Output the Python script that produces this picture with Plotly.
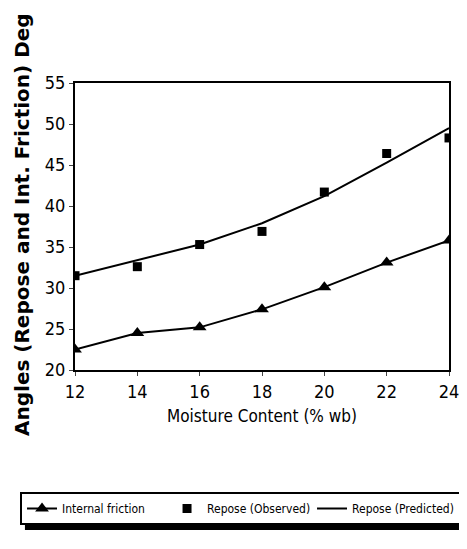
import plotly.graph_objects as go

moisture = [12, 14, 16, 18, 20, 22, 24]
internal_friction = [22.5, 24.5, 25.2, 27.4, 30.1, 33.1, 35.8]
repose_observed = [31.5, 32.6, 35.3, 36.9, 41.7, 46.4, 48.3]
repose_predicted = [31.5, 33.4, 35.3, 37.9, 41.2, 45.3, 49.5]

narrow = "DejaVu Sans Condensed, Liberation Sans Narrow, Liberation Sans"

fig = go.Figure()
fig.add_trace(go.Scatter(
    x=moisture, y=internal_friction, name="Internal friction",
    mode="lines+markers", line=dict(color="black", width=2),
    marker=dict(symbol="triangle-up", size=12, color="black"), legendwidth=100))
fig.add_trace(go.Scatter(
    x=moisture, y=repose_observed, name="Repose (Observed)",
    mode="markers", marker=dict(symbol="square", size=9, color="black"), legendwidth=100))
fig.add_trace(go.Scatter(
    x=moisture, y=repose_predicted, name="Repose (Predicted)",
    mode="lines", line=dict(color="black", width=2)))

# page has an 8px body margin; plot area on screen: left 68, right 449, top 83, bottom 370
def px_x(p):
    return (p - 68) / 381.0

def px_y(p):
    return (370 - p) / 287.0

# drop shadow behind the legend box
fig.add_shape(type="rect", xref="paper", yref="paper",
              x0=px_x(17), x1=px_x(464), y0=px_y(530), y1=px_y(500),
              fillcolor="black", line=dict(width=0), layer="above")

# y-axis title placed as a rotated annotation for exact placement
fig.add_annotation(text="<b>Angles (Repose and Int. Friction) Deg</b>",
                   xref="paper", yref="paper", x=px_x(14), y=px_y(224),
                   xanchor="center", yanchor="middle", textangle=-90, showarrow=False,
                   font=dict(size=20, family="DejaVu Sans, Liberation Sans", color="black"))

fig.update_layout(
    width=459, height=541,
    margin=dict(l=60, r=18, t=75, b=179),
    paper_bgcolor="white", plot_bgcolor="white",
    font=dict(family=narrow, color="black"),
    showlegend=True,
    legend=dict(orientation="h", x=px_x(12), xanchor="left", y=px_y(492), yanchor="top",
                bordercolor="black", borderwidth=2, font=dict(size=12, family=narrow),
                itemwidth=30, tracegroupgap=0, bgcolor="white"),
    xaxis=dict(range=[12, 24], tickvals=moisture, ticks="outside", ticklen=4,
               showline=True, linecolor="black", linewidth=2, mirror=True,
               showgrid=False, zeroline=False, automargin=False,
               tickfont=dict(size=18, family=narrow),
               title=dict(text="Moisture Content (% wb)", font=dict(size=17, family=narrow), standoff=10)),
    yaxis=dict(range=[20, 55], dtick=5, ticks="outside", ticklen=4,
               showline=True, linecolor="black", linewidth=2, mirror=True,
               showgrid=False, zeroline=False, automargin=False,
               tickfont=dict(size=18, family=narrow)),
)

fig.write_html("out.html")
